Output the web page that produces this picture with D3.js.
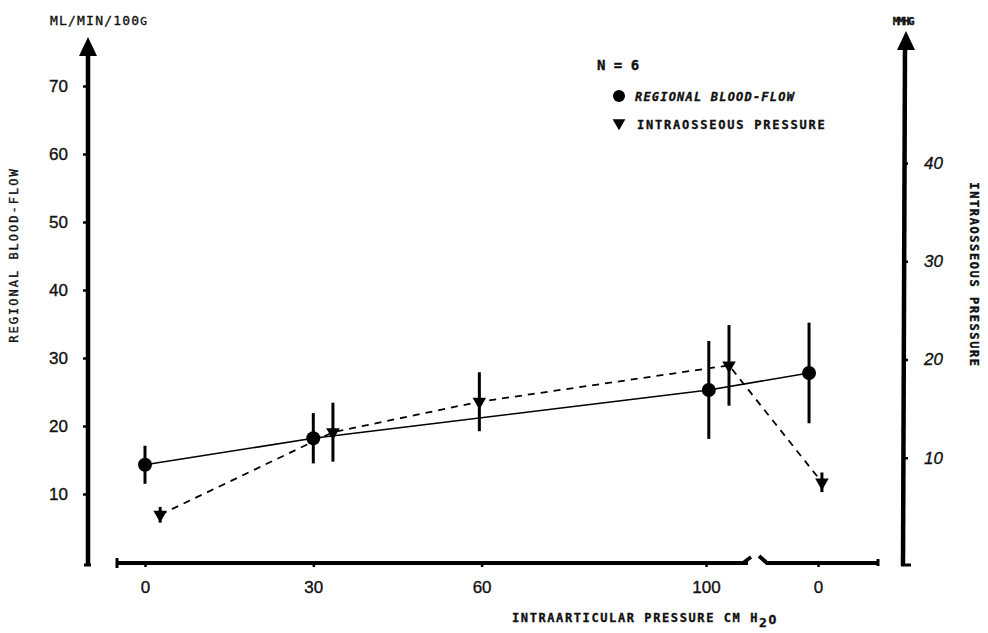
<!DOCTYPE html>
<html>
<head>
<meta charset="utf-8">
<script src="https://cdn.jsdelivr.net/npm/d3@7"></script>
<style>
  body { margin: 0; background: #fff; }
  text { font-family: "DejaVu Sans Mono", "Liberation Mono", monospace; fill: #111; stroke: #111; stroke-width: 0.35px; }
</style>
</head>
<body>
<div id="chart"></div>
<script>
// values
var loadTicks = [0, 30, 60, 100];
var postTicks = [0];
var flowTicks = [10, 20, 30, 40, 50, 60, 70];
var pressTicks = [10, 20, 30, 40];

// regional blood-flow (ml/min/100g), left axis
var flowX = [0, 30, 100.5, -1.6];
var flowPhase = ["load", "load", "load", "post"];
var flowMean = [14.3, 18.2, 25.3, 27.8];
var flowSd = [2.8, 3.7, 7.2, 7.4];

// intraosseous pressure (mmHg), right axis
var pressX = [2.7, 33.5, 59.6, 104.1, 0.7];
var pressPhase = ["load", "load", "load", "load", "post"];
var pressMean = [4.2, 12.6, 15.7, 19.4, 7.5];
var pressSd = [0.8, 3.0, 3.0, 4.1, 1.0];

var width = 988, height = 633;

var svg = d3.select("#chart").append("svg")
  .attr("width", width)
  .attr("height", height);

var xLoad = d3.scaleLinear().domain([0, 100]).range([145, 706]);
var xPost = d3.scaleLinear().domain([-10, 10]).range([762, 874]);
var yFlow = d3.scaleLinear().domain([0, 70]).range([562, 86]);
var yPress = d3.scaleLinear().domain([0, 40]).range([556, 163]);

function px(d) {
  return d.phase === "post" ? xPost(d.x) : xLoad(d.x);
}

var flow = flowX.map(function(x, i) {
  return { x: x, phase: flowPhase[i], mean: flowMean[i], sd: flowSd[i] };
});
var press = pressX.map(function(x, i) {
  return { x: x, phase: pressPhase[i], mean: pressMean[i], sd: pressSd[i] };
});

var leftX = 88, rightX = 903, baseY = 563;

// left axis
svg.append("line")
  .attr("x1", leftX).attr("x2", leftX)
  .attr("y1", 52).attr("y2", 565)
  .attr("stroke", "#000").attr("stroke-width", 4.5);
svg.append("line")
  .attr("x1", leftX - 4).attr("x2", leftX + 3)
  .attr("y1", 565).attr("y2", 565)
  .attr("stroke", "#000").attr("stroke-width", 3);
svg.append("path")
  .attr("d", "M" + leftX + ",37L" + (leftX + 9) + ",56L" + (leftX - 9) + ",56Z")
  .attr("fill", "#000");

var yAxisL = svg.append("g")
  .attr("transform", "translate(" + leftX + ",0)")
  .call(d3.axisLeft(yFlow).tickValues(flowTicks).tickSize(5).tickPadding(15));
yAxisL.select(".domain").remove();
yAxisL.selectAll(".tick line").attr("stroke", "#000").attr("stroke-width", 2.5);
yAxisL.selectAll(".tick text")
  .style("font-family", "'Liberation Sans', Arial, sans-serif")
  .style("font-size", "17px").attr("fill", "#111");

// right axis
svg.append("line")
  .attr("x1", rightX + 2).attr("x2", rightX)
  .attr("y1", 46).attr("y2", 566)
  .attr("stroke", "#000").attr("stroke-width", 4.5);
svg.append("line")
  .attr("x1", rightX - 2).attr("x2", rightX + 8)
  .attr("y1", 565).attr("y2", 565)
  .attr("stroke", "#000").attr("stroke-width", 3);
svg.append("path")
  .attr("d", "M" + (rightX + 3) + ",31L" + (rightX + 12) + ",50L" + (rightX - 6) + ",50Z")
  .attr("fill", "#000");

var yAxisR = svg.append("g")
  .attr("transform", "translate(" + rightX + ",0)")
  .call(d3.axisRight(yPress).tickValues(pressTicks).tickSize(5).tickPadding(16));
yAxisR.select(".domain").remove();
yAxisR.selectAll(".tick line").attr("stroke", "#000").attr("stroke-width", 2.5);
yAxisR.selectAll(".tick text")
  .style("font-family", "'Liberation Sans', Arial, sans-serif")
  .style("font-size", "17px").style("font-style", "italic")
  .attr("fill", "#111");

// x axis, split into loading and release parts
svg.append("line")
  .attr("x1", 116).attr("x2", 748)
  .attr("y1", baseY).attr("y2", baseY)
  .attr("stroke", "#000").attr("stroke-width", 4);
svg.append("line")
  .attr("x1", 117).attr("x2", 117)
  .attr("y1", baseY - 5).attr("y2", baseY + 5)
  .attr("stroke", "#000").attr("stroke-width", 3);
svg.append("line")
  .attr("x1", 743).attr("x2", 751)
  .attr("y1", baseY).attr("y2", baseY - 6)
  .attr("stroke", "#000").attr("stroke-width", 3.5);
svg.append("path")
  .attr("d", "M759,556L767," + baseY + "L878," + baseY)
  .attr("fill", "none")
  .attr("stroke", "#000").attr("stroke-width", 4);
svg.append("line")
  .attr("x1", 878).attr("x2", 878)
  .attr("y1", baseY - 4).attr("y2", baseY + 3)
  .attr("stroke", "#000").attr("stroke-width", 3);

function styleX(g) {
  g.select(".domain").remove();
  g.selectAll(".tick line").attr("stroke", "#000").attr("stroke-width", 2.5);
  g.selectAll(".tick text")
    .style("font-family", "'Liberation Sans', Arial, sans-serif")
    .style("font-size", "17px").attr("fill", "#111");
}
svg.append("g")
  .attr("transform", "translate(0," + baseY + ")")
  .call(d3.axisBottom(xLoad).tickValues(loadTicks).tickSize(4).tickPadding(14))
  .call(styleX);
svg.append("g")
  .attr("transform", "translate(0," + baseY + ")")
  .call(d3.axisBottom(xPost).tickValues(postTicks).tickSize(4).tickPadding(14))
  .call(styleX);

// axis titles
svg.append("text")
  .attr("x", 50).attr("y", 25)
  .style("font-size", "13px").style("letter-spacing", "1.2px")
  .text("ML/MIN/100")
  .append("tspan").style("font-size", "11px").text("G");

svg.append("text")
  .attr("x", 903).attr("y", 25)
  .attr("text-anchor", "middle")
  .style("font-size", "11px").style("font-weight", "bold")
  .style("letter-spacing", "-1.5px")
  .text("MMHG");

svg.append("text")
  .attr("transform", "translate(18,255) rotate(-90)")
  .attr("text-anchor", "middle")
  .style("font-size", "12px").style("letter-spacing", "2px")
  .text("REGIONAL BLOOD-FLOW");

svg.append("text")
  .attr("transform", "translate(970,275) rotate(90)")
  .attr("text-anchor", "middle")
  .style("font-size", "12px").style("font-weight", "bold")
  .style("letter-spacing", "1.6px")
  .text("INTRAOSSEOUS PRESSURE");

var xTitle = svg.append("text")
  .attr("x", 512).attr("y", 622)
  .style("font-size", "12px").style("font-weight", "bold")
  .style("letter-spacing", "1.6px");
xTitle.append("tspan").text("INTRAARTICULAR PRESSURE CM H");
xTitle.append("tspan").attr("dy", 5).style("font-size", "13px").text("2");
xTitle.append("tspan").attr("dy", -3).style("font-size", "13px").text("O");

// legend
svg.append("text")
  .attr("x", 597).attr("y", 70)
  .style("font-size", "14px").style("font-weight", "bold")
  .text("N = 6");
svg.append("circle")
  .attr("cx", 619).attr("cy", 96).attr("r", 6).attr("fill", "#000");
svg.append("text")
  .attr("x", 635).attr("y", 101)
  .style("font-size", "12px").style("font-weight", "bold")
  .style("font-style", "italic").style("letter-spacing", "1.2px")
  .text("REGIONAL BLOOD-FLOW");
svg.append("path")
  .attr("d", d3.symbol().type(d3.symbolTriangle).size(70))
  .attr("transform", "translate(619,123) rotate(180)")
  .attr("fill", "#000");
svg.append("text")
  .attr("x", 637).attr("y", 129)
  .style("font-size", "12px").style("font-weight", "bold")
  .style("letter-spacing", "1.8px")
  .text("INTRAOSSEOUS PRESSURE");

// error bars
svg.selectAll(".flow-err")
  .data(flow)
  .enter().append("line")
  .attr("class", "flow-err")
  .attr("x1", px).attr("x2", px)
  .attr("y1", function(d) { return yFlow(d.mean + d.sd); })
  .attr("y2", function(d) { return yFlow(d.mean - d.sd); })
  .attr("stroke", "#000").attr("stroke-width", 3);

svg.selectAll(".press-err")
  .data(press)
  .enter().append("line")
  .attr("class", "press-err")
  .attr("x1", px).attr("x2", px)
  .attr("y1", function(d) { return yPress(d.mean + d.sd); })
  .attr("y2", function(d) { return yPress(d.mean - d.sd); })
  .attr("stroke", "#000").attr("stroke-width", 3);

// connecting lines
var flowLine = d3.line()
  .x(px)
  .y(function(d) { return yFlow(d.mean); });
var pressLine = d3.line()
  .x(px)
  .y(function(d) { return yPress(d.mean); });

svg.append("path")
  .datum(flow)
  .attr("d", flowLine)
  .attr("fill", "none")
  .attr("stroke", "#000").attr("stroke-width", 1.6);

svg.append("path")
  .datum(press)
  .attr("d", pressLine)
  .attr("fill", "none")
  .attr("stroke", "#000").attr("stroke-width", 1.8)
  .attr("stroke-dasharray", "7,6");

// markers
svg.selectAll(".flow-dot")
  .data(flow)
  .enter().append("circle")
  .attr("class", "flow-dot")
  .attr("cx", px)
  .attr("cy", function(d) { return yFlow(d.mean); })
  .attr("r", 7)
  .attr("fill", "#000");

svg.selectAll(".press-dot")
  .data(press)
  .enter().append("path")
  .attr("class", "press-dot")
  .attr("d", d3.symbol().type(d3.symbolTriangle).size(80))
  .attr("transform", function(d) {
    return "translate(" + px(d) + "," + yPress(d.mean) + ") rotate(180)";
  })
  .attr("fill", "#000");
</script>
</body>
</html>
